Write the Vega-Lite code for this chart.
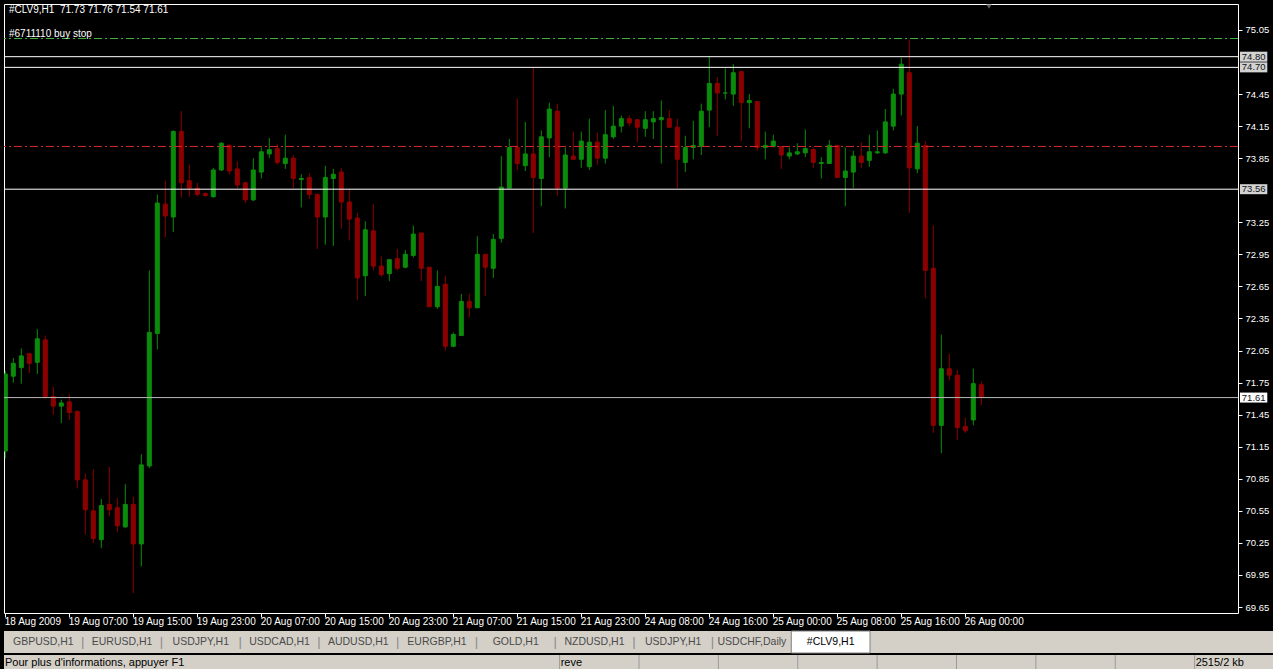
{
  "$schema": "https://vega.github.io/schema/vega-lite/v6.json",
  "background": "#000000",
  "padding": {"left": 3, "top": 3, "right": 0, "bottom": 0},
  "bounds": "flush",
  "spacing": 18,
  "config": {
    "font": "Liberation Sans",
    "view": {"stroke": null},
    "scale": {"continuousPadding": 0},
    "axis": {"title": null, "grid": false, "domain": false, "labelOverlap": false, "labelFlush": false, "labelBound": false, "labelColor": "#ffffff", "tickColor": "#ffffff", "labelFont": "Liberation Sans", "tickCount": 40},
    "axisX": {"labelAlign": "left", "labelOffset": -1, "labelFontSize": 10, "tickSize": 4, "labelPadding": -1},
    "axisY": {"labelFontSize": 9.5, "tickSize": 4, "labelPadding": 3}
  },
  "datasets": {
    "candles": [
      {"i":0,"o":71.11,"h":71.86,"l":71.04,"c":71.83},{"i":1,"o":71.81,"h":71.98,"l":71.75,"c":71.93},{"i":2,"o":71.89,"h":72.07,"l":71.74,"c":72.00},{"i":3,"o":72.02,"h":72.03,"l":71.84,"c":71.93},{"i":4,"o":71.94,"h":72.25,"l":71.83,"c":72.16},{"i":5,"o":72.15,"h":72.19,"l":71.60,"c":71.62},{"i":6,"o":71.62,"h":71.71,"l":71.45,"c":71.53},{"i":7,"o":71.53,"h":71.59,"l":71.37,"c":71.56},{"i":8,"o":71.57,"h":71.64,"l":71.40,"c":71.47},{"i":9,"o":71.48,"h":71.49,"l":70.76,"c":70.84},
      {"i":10,"o":70.84,"h":70.90,"l":70.33,"c":70.56},{"i":11,"o":70.55,"h":70.94,"l":70.25,"c":70.29},{"i":12,"o":70.28,"h":70.66,"l":70.20,"c":70.60},{"i":13,"o":70.61,"h":70.96,"l":70.50,"c":70.56},{"i":14,"o":70.58,"h":70.67,"l":70.35,"c":70.41},{"i":15,"o":70.40,"h":70.80,"l":70.39,"c":70.61},{"i":16,"o":70.61,"h":70.68,"l":69.78,"c":70.24},{"i":17,"o":70.24,"h":71.08,"l":70.03,"c":70.98},{"i":18,"o":70.97,"h":72.80,"l":70.95,"c":72.22},{"i":19,"o":72.21,"h":73.51,"l":72.06,"c":73.43},
      {"i":20,"o":73.42,"h":73.64,"l":73.11,"c":73.31},{"i":21,"o":73.30,"h":74.11,"l":73.16,"c":74.10},{"i":22,"o":74.10,"h":74.29,"l":73.48,"c":73.62},{"i":23,"o":73.64,"h":73.79,"l":73.49,"c":73.57},{"i":24,"o":73.57,"h":73.62,"l":73.49,"c":73.51},{"i":25,"o":73.52,"h":73.53,"l":73.49,"c":73.50},{"i":26,"o":73.49,"h":73.76,"l":73.48,"c":73.74},{"i":27,"o":73.74,"h":74.00,"l":73.73,"c":73.99},{"i":28,"o":73.97,"h":73.98,"l":73.70,"c":73.73},{"i":29,"o":73.75,"h":73.82,"l":73.57,"c":73.60},
      {"i":30,"o":73.62,"h":73.63,"l":73.43,"c":73.46},{"i":31,"o":73.46,"h":73.85,"l":73.45,"c":73.74},{"i":32,"o":73.72,"h":73.95,"l":73.66,"c":73.91},{"i":33,"o":73.89,"h":74.04,"l":73.85,"c":73.93},{"i":34,"o":73.94,"h":73.98,"l":73.79,"c":73.81},{"i":35,"o":73.80,"h":74.07,"l":73.75,"c":73.85},{"i":36,"o":73.85,"h":73.88,"l":73.57,"c":73.66},{"i":37,"o":73.65,"h":73.70,"l":73.39,"c":73.66},{"i":38,"o":73.67,"h":73.71,"l":73.47,"c":73.51},{"i":39,"o":73.51,"h":73.52,"l":73.00,"c":73.30},
      {"i":40,"o":73.30,"h":73.78,"l":73.04,"c":73.67},{"i":41,"o":73.66,"h":73.75,"l":73.03,"c":73.70},{"i":42,"o":73.72,"h":73.76,"l":73.19,"c":73.44},{"i":43,"o":73.44,"h":73.56,"l":73.08,"c":73.28},{"i":44,"o":73.29,"h":73.34,"l":72.52,"c":72.73},{"i":45,"o":72.75,"h":73.26,"l":72.56,"c":73.18},{"i":46,"o":73.17,"h":73.42,"l":72.80,"c":72.84},{"i":47,"o":72.84,"h":72.93,"l":72.74,"c":72.76},{"i":48,"o":72.77,"h":72.90,"l":72.70,"c":72.90},{"i":49,"o":72.91,"h":73.00,"l":72.80,"c":72.82},
      {"i":50,"o":72.83,"h":72.99,"l":72.82,"c":72.95},{"i":51,"o":72.94,"h":73.22,"l":72.92,"c":73.14},{"i":52,"o":73.15,"h":73.15,"l":72.70,"c":72.82},{"i":53,"o":72.83,"h":72.83,"l":72.46,"c":72.46},{"i":54,"o":72.46,"h":72.80,"l":72.44,"c":72.65},{"i":55,"o":72.67,"h":72.75,"l":72.05,"c":72.09},{"i":56,"o":72.09,"h":72.22,"l":72.08,"c":72.20},{"i":57,"o":72.19,"h":72.58,"l":72.19,"c":72.51},{"i":58,"o":72.51,"h":72.58,"l":72.36,"c":72.45},{"i":59,"o":72.45,"h":73.12,"l":72.45,"c":72.95},
      {"i":60,"o":72.95,"h":72.95,"l":72.56,"c":72.83},{"i":61,"o":72.82,"h":73.14,"l":72.73,"c":73.09},{"i":62,"o":73.10,"h":73.87,"l":73.06,"c":73.58},{"i":63,"o":73.57,"h":74.03,"l":73.57,"c":73.95},{"i":64,"o":73.95,"h":74.41,"l":73.74,"c":73.80},{"i":65,"o":73.78,"h":74.19,"l":73.73,"c":73.89},{"i":66,"o":73.89,"h":74.70,"l":73.15,"c":73.67},{"i":67,"o":73.66,"h":74.11,"l":73.40,"c":74.05},{"i":68,"o":74.04,"h":74.37,"l":73.86,"c":74.31},{"i":69,"o":74.29,"h":74.36,"l":73.50,"c":73.57},
      {"i":70,"o":73.57,"h":73.95,"l":73.38,"c":73.88},{"i":71,"o":73.87,"h":74.10,"l":73.84,"c":73.84},{"i":72,"o":73.84,"h":74.10,"l":73.76,"c":74.01},{"i":73,"o":73.77,"h":74.22,"l":73.74,"c":74.00},{"i":74,"o":74.00,"h":74.09,"l":73.79,"c":73.85},{"i":75,"o":73.85,"h":74.30,"l":73.80,"c":74.07},{"i":76,"o":74.05,"h":74.34,"l":74.03,"c":74.15},{"i":77,"o":74.15,"h":74.25,"l":74.09,"c":74.22},{"i":78,"o":74.22,"h":74.25,"l":74.15,"c":74.18},{"i":79,"o":74.21,"h":74.21,"l":74.00,"c":74.14},
      {"i":80,"o":74.13,"h":74.29,"l":74.05,"c":74.21},{"i":81,"o":74.19,"h":74.29,"l":74.03,"c":74.22},{"i":82,"o":74.21,"h":74.39,"l":73.80,"c":74.23},{"i":83,"o":74.22,"h":74.30,"l":74.13,"c":74.14},{"i":84,"o":74.14,"h":74.22,"l":73.57,"c":73.84},{"i":85,"o":73.81,"h":74.06,"l":73.72,"c":73.95},{"i":86,"o":73.95,"h":74.20,"l":73.84,"c":73.97},{"i":87,"o":73.96,"h":74.36,"l":73.88,"c":74.29},{"i":88,"o":74.30,"h":74.80,"l":74.14,"c":74.55},{"i":89,"o":74.55,"h":74.61,"l":74.06,"c":74.46},
      {"i":90,"o":74.46,"h":74.69,"l":74.40,"c":74.46},{"i":91,"o":74.45,"h":74.73,"l":74.34,"c":74.65},{"i":92,"o":74.66,"h":74.66,"l":74.01,"c":74.37},{"i":93,"o":74.37,"h":74.45,"l":74.13,"c":74.39},{"i":94,"o":74.38,"h":74.38,"l":73.92,"c":73.95},{"i":95,"o":73.95,"h":74.10,"l":73.84,"c":73.97},{"i":96,"o":73.96,"h":74.07,"l":73.95,"c":74.01},{"i":97,"o":73.96,"h":73.96,"l":73.75,"c":73.88},{"i":98,"o":73.87,"h":73.95,"l":73.84,"c":73.90},{"i":99,"o":73.89,"h":73.99,"l":73.88,"c":73.91},
      {"i":100,"o":73.90,"h":74.12,"l":73.86,"c":73.94},{"i":101,"o":73.93,"h":73.95,"l":73.76,"c":73.81},{"i":102,"o":73.80,"h":73.86,"l":73.66,"c":73.81},{"i":103,"o":73.80,"h":74.02,"l":73.80,"c":73.97},{"i":104,"o":73.97,"h":73.97,"l":73.67,"c":73.67},{"i":105,"o":73.67,"h":73.95,"l":73.40,"c":73.73},{"i":106,"o":73.72,"h":73.92,"l":73.57,"c":73.87},{"i":107,"o":73.87,"h":74.00,"l":73.76,"c":73.81},{"i":108,"o":73.83,"h":74.07,"l":73.77,"c":73.91},{"i":109,"o":73.90,"h":74.11,"l":73.89,"c":73.91},
      {"i":110,"o":73.90,"h":74.31,"l":73.89,"c":74.19},{"i":111,"o":74.15,"h":74.50,"l":74.11,"c":74.45},{"i":112,"o":74.45,"h":74.79,"l":74.25,"c":74.73},{"i":113,"o":74.65,"h":74.96,"l":73.34,"c":73.76},{"i":114,"o":73.75,"h":74.15,"l":73.71,"c":73.99},{"i":115,"o":73.97,"h":74.01,"l":72.54,"c":72.80},{"i":116,"o":72.82,"h":73.22,"l":71.28,"c":71.35},{"i":117,"o":71.35,"h":72.20,"l":71.09,"c":71.88},{"i":118,"o":71.88,"h":72.02,"l":71.77,"c":71.82},{"i":119,"o":71.82,"h":71.87,"l":71.21,"c":71.33},
      {"i":120,"o":71.34,"h":71.42,"l":71.28,"c":71.30},{"i":121,"o":71.40,"h":71.88,"l":71.35,"c":71.74},{"i":122,"o":71.73,"h":71.76,"l":71.54,"c":71.61}
    ],
    "levels": [
      {"price": 74.80, "kind": "line"},
      {"price": 74.70, "kind": "line"},
      {"price": 73.56, "kind": "line"},
      {"price": 71.61, "kind": "bid"},
      {"price": 74.97, "kind": "order", "label": "#6711110 buy stop"},
      {"price": 73.96, "kind": "stop"}
    ],
    "header": [{"text": "#CLV9,H1\u00a0\u00a071.73 71.76 71.54 71.61"}],
    "tabs": [
      {"slot": 1, "name": "GBPUSD,H1", "active": false},
      {"slot": 2, "name": "EURUSD,H1", "active": false},
      {"slot": 3, "name": "USDJPY,H1", "active": false},
      {"slot": 4, "name": "USDCAD,H1", "active": false},
      {"slot": 5, "name": "AUDUSD,H1", "active": false},
      {"slot": 6, "name": "EURGBP,H1", "active": false},
      {"slot": 7, "name": "GOLD,H1", "active": false},
      {"slot": 8, "name": "NZDUSD,H1", "active": false},
      {"slot": 9, "name": "USDJPY,H1", "active": false},
      {"slot": 10, "name": "USDCHF,Daily", "active": false},
      {"slot": 11, "name": "#CLV9,H1", "active": true}
    ],
    "status": [
      {"slot": 0, "text": "Pour plus d'informations, appuyer F1"},
      {"slot": 7, "text": "reve"},
      {"slot": 8, "text": ""},
      {"slot": 9, "text": ""},
      {"slot": 10, "text": ""},
      {"slot": 11, "text": ""},
      {"slot": 12, "text": ""},
      {"slot": 13, "text": ""},
      {"slot": 14, "text": ""},
      {"slot": 15, "text": "2515/2 kb"}
    ]
  },
  "vconcat": [
    {
      "width": 1234,
      "height": 609,
      "view": {"fill": "#000000", "stroke": "#ffffff", "strokeWidth": 1},
      "layer": [
        {
          "data": {"name": "candles"},
          "mark": {"type": "rule", "strokeWidth": 1, "clip": true},
          "encoding": {
            "x": {"field": "i", "type": "quantitative",
              "scale": {"domain": [-0.1625, 154.0875], "nice": false, "zero": false, "padding": 0},
              "axis": {"orient": "bottom", "tickCount": 40, "values": [0,8,16,24,32,40,48,56,64,72,80,88,96,104,112,120],
                "labelExpr": "['18 Aug 2009','19 Aug 07:00','19 Aug 15:00','19 Aug 23:00','20 Aug 07:00','20 Aug 15:00','20 Aug 23:00','21 Aug 07:00','21 Aug 15:00','21 Aug 23:00','24 Aug 08:00','24 Aug 16:00','25 Aug 00:00','25 Aug 08:00','25 Aug 16:00','26 Aug 00:00'][round(datum.value/8)]"}},
            "y": {"field": "l", "type": "quantitative",
              "scale": {"domain": [69.594, 75.293], "nice": false, "zero": false, "padding": 0},
              "axis": {"orient": "right", "tickCount": 40, "values": [69.65,69.95,70.25,70.55,70.85,71.15,71.45,71.75,72.05,72.35,72.65,72.95,73.25,73.85,74.15,74.45,75.05], "format": ".2f"}},
            "y2": {"field": "h"},
            "color": {"condition": {"test": "datum.c >= datum.o", "value": "#0c8c0c"}, "value": "#8e0000"}
          }
        },
        {
          "data": {"name": "candles"},
          "mark": {"type": "bar", "size": 4, "strokeWidth": 1, "clip": true},
          "encoding": {
            "x": {"field": "i", "type": "quantitative"},
            "y": {"field": "o", "type": "quantitative"},
            "y2": {"field": "c"},
            "color": {"condition": {"test": "datum.c >= datum.o", "value": "#0c8c0c"}, "value": "#8e0000"},
            "stroke": {"condition": {"test": "datum.c >= datum.o", "value": "#0c8c0c"}, "value": "#8e0000"}
          }
        },
        {
          "data": {"name": "levels"},
          "transform": [{"filter": "datum.kind == 'line'"}],
          "mark": {"type": "rule", "color": "#ffffff", "strokeWidth": 1},
          "encoding": {"y": {"field": "price", "type": "quantitative"}}
        },
        {
          "data": {"name": "levels"},
          "transform": [{"filter": "datum.kind == 'bid'"}],
          "mark": {"type": "rule", "color": "#b8b8b8", "strokeWidth": 1},
          "encoding": {"y": {"field": "price", "type": "quantitative"}}
        },
        {
          "data": {"name": "levels"},
          "transform": [{"filter": "datum.kind == 'order'"}],
          "mark": {"type": "rule", "color": "#3cb43c", "strokeWidth": 1, "strokeDash": [8, 3, 2, 3]},
          "encoding": {"y": {"field": "price", "type": "quantitative"}}
        },
        {
          "data": {"name": "levels"},
          "transform": [{"filter": "datum.kind == 'stop'"}],
          "mark": {"type": "rule", "color": "#d42a2a", "strokeWidth": 1, "strokeDash": [8, 3, 2, 3]},
          "encoding": {"y": {"field": "price", "type": "quantitative"}}
        },
        {
          "data": {"name": "levels"},
          "transform": [{"filter": "datum.kind == 'order'"}],
          "mark": {"type": "text", "align": "left", "baseline": "alphabetic", "dy": -2, "fontSize": 10, "color": "#ffffff"},
          "encoding": {
            "x": {"datum": 0.46},
            "y": {"field": "price", "type": "quantitative"},
            "text": {"field": "label"}
          }
        },
        {
          "data": {"name": "levels"},
          "transform": [{"filter": "datum.kind == 'line' || datum.kind == 'bid'"}],
          "mark": {"type": "bar", "size": 10, "clip": false},
          "encoding": {
            "x": {"datum": 154.34},
            "x2": {"datum": 157.75},
            "y": {"field": "price", "type": "quantitative"},
            "color": {"condition": {"test": "datum.kind == 'bid'", "value": "#ffffff"}, "value": "#d2d2d2"}
          }
        },
        {
          "data": {"name": "levels"},
          "transform": [{"filter": "datum.kind == 'line' || datum.kind == 'bid'"}],
          "mark": {"type": "text", "align": "center", "baseline": "middle", "fontSize": 9.5, "color": "#111111", "clip": false},
          "encoding": {
            "x": {"datum": 156.05},
            "y": {"field": "price", "type": "quantitative"},
            "text": {"field": "price", "type": "quantitative", "format": ".2f"}
          }
        },
        {
          "data": {"name": "header"},
          "mark": {"type": "text", "align": "left", "baseline": "middle", "fontSize": 10, "color": "#ffffff"},
          "encoding": {
            "x": {"datum": 0.46},
            "y": {"datum": 75.237},
            "text": {"field": "text"}
          }
        },
        {
          "data": {"name": "header"},
          "mark": {"type": "point", "shape": "triangle-down", "filled": true, "size": 30, "color": "#8c8c8c", "clip": false},
          "encoding": {
            "x": {"datum": 122.96},
            "y": {"datum": 75.27}
          }
        }
      ]
    },
    {
      "vconcat": [
        {
          "width": 1270,
          "height": 22,
          "view": {"fill": "#d4d0c8", "stroke": null},
          "data": {"name": "tabs"},
          "layer": [
            {
              "transform": [{"filter": "datum.active"}],
              "mark": {"type": "rect", "fill": "#ffffff", "stroke": "#808080", "strokeWidth": 1},
              "encoding": {"x": {"field": "slot", "type": "ordinal", "scale": {"range": [0, 866], "paddingInner": 0, "paddingOuter": 0}, "axis": null}}
            },
            {
              "mark": {"type": "text", "fontSize": 10.5, "baseline": "middle"},
              "encoding": {
                "x": {"field": "slot", "type": "ordinal", "axis": null},
                "text": {"field": "name"},
                "color": {"condition": {"test": "datum.active", "value": "#000000"}, "value": "#4a4a4a"}
              }
            },
            {
              "transform": [{"filter": "datum.slot < 10"}],
              "mark": {"type": "text", "text": "|", "fontSize": 13, "color": "#8a8a8a", "baseline": "middle"},
              "encoding": {"x": {"field": "slot", "type": "ordinal", "bandPosition": 1, "axis": null}}
            }
          ]
        },
        {
          "width": 1270,
          "height": 15,
          "view": {"fill": "#d4d0c8", "stroke": null},
          "data": {"name": "status"},
          "layer": [
            {
              "transform": [{"filter": "datum.slot > 0"}],
              "mark": {"type": "rule", "color": "#9a9a9a", "strokeWidth": 1},
              "encoding": {"x": {"field": "slot", "type": "ordinal", "bandPosition": 0, "scale": {"domain": [0,1,2,3,4,5,6,7,8,9,10,11,12,13,14,15], "paddingInner": 0, "paddingOuter": 0}, "axis": null}}
            },
            {
              "mark": {"type": "text", "align": "left", "baseline": "middle", "dx": 1, "fontSize": 11, "color": "#000000"},
              "encoding": {
                "x": {"field": "slot", "type": "ordinal", "bandPosition": 0, "axis": null},
                "text": {"field": "text"}
              }
            }
          ]
        }
      ],
      "spacing": 2,
      "bounds": "flush"
    }
  ]
}
